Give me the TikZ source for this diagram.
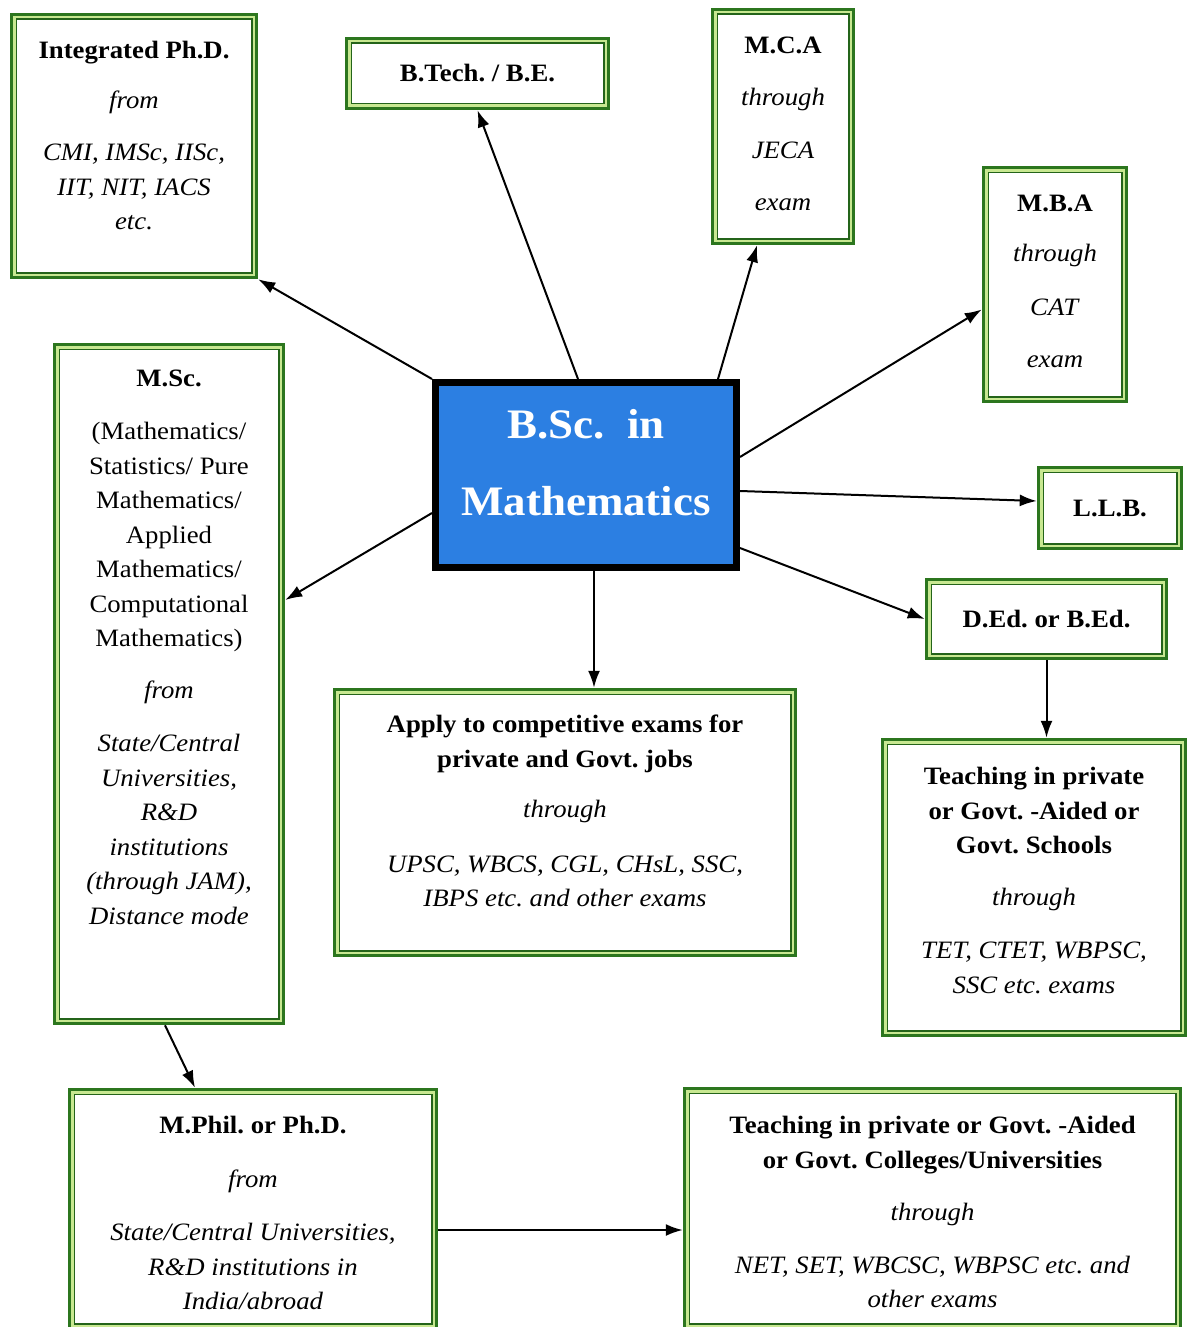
\documentclass[tikz,border=0pt]{standalone}
\usepackage{fontspec}
\setmainfont{Liberation Serif}[FakeStretch=1.07]
\usetikzlibrary{arrows.meta}
\definecolor{gdark}{RGB}{44,118,30}
\definecolor{glight}{RGB}{200,232,145}
\definecolor{gthin}{RGB}{36,100,26}
\definecolor{bscblue}{RGB}{44,127,226}
\tikzset{
  gbox/.style={draw=gdark, line width=6.5pt, fill=white, inner sep=0pt},
  txt/.style={align=center, inner sep=0pt, font=\fontsize{25}{34.5}\selectfont\frenchspacing},
  bigtxt/.style={align=center, inner sep=0pt, text=white, font=\fontsize{42}{77}\selectfont\bfseries},
  conn/.style={draw=black, line width=2pt, -{Latex[length=17pt,width=12pt]}}
}
\begin{document}
\frenchspacing
\begin{tikzpicture}[x=1pt,y=-1pt]
\clip (0,0) rectangle (1187,1327);
\fill[white] (0,0) rectangle (1187,1327);

% boxes
\node[gbox, minimum width=242pt, minimum height=260pt] (intphd) at (134,146) {};
\node[gbox, minimum width=259pt, minimum height=67pt, font=\fontsize{25}{34.5}\selectfont\bfseries] (btech) at (477.5,73.5) {B.Tech. / B.E.};
\node[gbox, minimum width=138pt, minimum height=231pt] (mca) at (783,126.5) {};
\node[gbox, minimum width=140pt, minimum height=231pt] (mba) at (1055,284.5) {};
\node[gbox, minimum width=140pt, minimum height=78pt, font=\fontsize{25}{34.5}\selectfont\bfseries] (llb) at (1110,508) {L.L.B.};
\node[gbox, minimum width=237pt, minimum height=76pt, font=\fontsize{25}{34.5}\selectfont\bfseries] (ded) at (1046.5,619) {D.Ed. or B.Ed.};
\node[gbox, minimum width=300pt, minimum height=293pt] (school) at (1034,887.5) {};
\node[gbox, minimum width=458pt, minimum height=263pt] (apply) at (565,822.5) {};
\node[gbox, minimum width=226pt, minimum height=676pt] (msc) at (169,684) {};
\node[gbox, minimum width=364pt, minimum height=236pt] (mphil) at (253,1209) {};
\node[gbox, minimum width=493pt, minimum height=237pt] (college) at (932.5,1208.5) {};
\node[draw=black, line width=7pt, fill=bscblue, minimum width=301pt, minimum height=185pt, inner sep=0pt] (bsc) at (586,475) {};

% inner frames
\foreach \n in {intphd,btech,mca,mba,llb,ded,school,apply,msc,mphil,college}{
  \draw[glight, line width=2.5pt] ([shift={(4.5pt,4.5pt)}]\n.south west) rectangle ([shift={(-4.5pt,-4.5pt)}]\n.north east);
  \draw[gthin, line width=1.3pt] ([shift={(6.4pt,6.4pt)}]\n.south west) rectangle ([shift={(-6.4pt,-6.4pt)}]\n.north east);
}

% texts
\node[txt, anchor=north] (intphd-t) at (134,41) {\textbf{Integrated Ph.D.}\\[15.5pt]\textit{from}\\[17.5pt]\textit{CMI, IMSc, IISc,}\\\textit{IIT, NIT, IACS}\\\textit{etc.}};
\node[txt, anchor=north] (mca-t) at (783,37) {\textbf{M.C.A}\\[17.5pt]\textit{through}\\[18pt]\textit{JECA}\\[17.5pt]\textit{exam}};
\node[txt, anchor=north] (mba-t) at (1055,195) {\textbf{M.B.A}\\[15.5pt]\textit{through}\\[19.5pt]\textit{CAT}\\[17.5pt]\textit{exam}};
\node[txt, anchor=north] (school-t) at (1034,767) {\textbf{Teaching in private}\\\textbf{or Govt. -Aided or}\\\textbf{Govt. Schools}\\[17.5pt]\textit{through}\\[18.5pt]\textit{TET, CTET, WBPSC,}\\\textit{SSC etc. exams}};
\node[txt, anchor=north] (apply-t) at (565,715) {\textbf{Apply to competitive exams for}\\\textbf{private and Govt. jobs}\\[15.5pt]\textit{through}\\[20.5pt]\textit{UPSC, WBCS, CGL, CHsL, SSC,}\\\textit{IBPS etc. and other exams}};
\node[txt, anchor=north] (msc-t) at (169,370) {\textbf{M.Sc.}\\[18.5pt](Mathematics/\\Statistics/ Pure\\Mathematics/\\Applied\\Mathematics/\\Computational\\Mathematics)\\[17.5pt]\textit{from}\\[18.5pt]\textit{State/Central}\\\textit{Universities,}\\\textit{R\&D}\\\textit{institutions}\\\textit{(through JAM),}\\\textit{Distance mode}};
\node[txt, anchor=north] (mphil-t) at (253,1116) {\textbf{M.Phil. or Ph.D.}\\[19.5pt]\textit{from}\\[18.5pt]\textit{State/Central Universities,}\\\textit{R\&D institutions in}\\\textit{India/abroad}};
\node[txt, anchor=north] (college-t) at (932.5,1116) {\textbf{Teaching in private or Govt. -Aided}\\\textbf{or Govt. Colleges/Universities}\\[17.5pt]\textit{through}\\[18.5pt]\textit{NET, SET, WBCSC, WBPSC etc. and}\\\textit{other exams}};
\node[bigtxt, anchor=north] (bsc-t) at (586,409) {B.Sc.\ \ in\\Mathematics};

% connectors
\draw[conn] (bsc.north west) -- (intphd.south east);
\draw[conn] ([xshift=-8pt]bsc.north) -- (btech.south);
\draw[conn] ([xshift=132pt]bsc.north) -- ([xshift=-26pt]mca.south);
\draw[conn] ([yshift=18pt]bsc.east) -- ([yshift=-25pt]mba.west);
\draw[conn] ([yshift=-16pt]bsc.east) -- ([yshift=7pt]llb.west);
\draw[conn] ([yshift=-73pt]bsc.east) -- (ded.west);
\draw[conn] ([xshift=8pt]bsc.south) -- ([xshift=8pt]bsc.south |- apply.north);
\draw[conn] ([yshift=-38pt]bsc.west) -- ([yshift=84pt]msc.east);
\draw[conn] (ded.south) -- (ded.south |- school.north);
\draw[conn] ([xshift=-4pt]msc.south) -- ([xshift=-58pt]mphil.north);
\draw[conn] ([yshift=-21pt]mphil.east) -- ([yshift=-21pt]mphil.east -| college.west);
\end{tikzpicture}
\end{document}
